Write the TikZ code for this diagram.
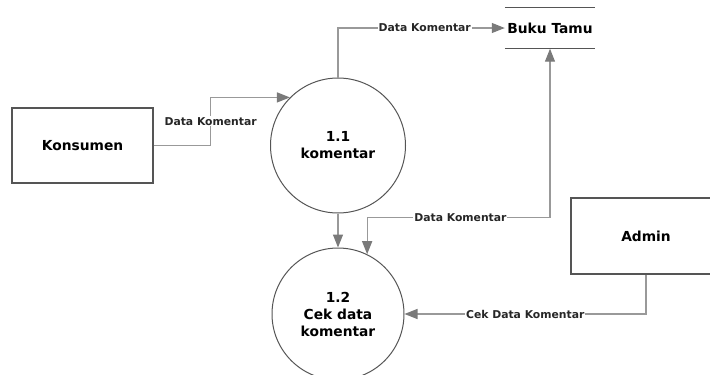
\documentclass[tikz,border=0pt]{standalone}
\usepackage{fontspec}
\setmainfont{DejaVu Sans}
\usetikzlibrary{arrows.meta}
\definecolor{edge}{HTML}{555555}
\definecolor{flowgray}{HTML}{999999}
\definecolor{tipgray}{HTML}{7A7A7A}
\tikzstyle{entity}=[rectangle, draw=edge, line width=1.2pt, inner sep=0pt, font=\fontsize{13.8}{16}\selectfont\bfseries]
\tikzstyle{process}=[circle, draw=edge, line width=1pt, inner sep=0pt, minimum size=135pt, align=center, font=\fontsize{13.8}{17}\selectfont\bfseries]
\tikzstyle{store}=[inner sep=0pt, minimum width=90pt, minimum height=41pt, font=\fontsize{13.8}{16}\selectfont\bfseries]
\tikzstyle{flow}=[draw=flowgray, line width=1.2pt, -{Triangle[length=13pt, width=10pt, fill=tipgray, color=tipgray]}]
\tikzstyle{flowboth}=[flow, {Triangle[length=13pt, width=10pt, fill=tipgray, color=tipgray]}-{Triangle[length=13pt, width=10pt, fill=tipgray, color=tipgray]}]
\tikzstyle{lbl}=[fill=white, inner sep=1pt, text=black!85, font=\fontsize{10.8}{12}\selectfont\bfseries]

\begin{document}
\begin{tikzpicture}[x=1pt, y=-1pt]
                    \useasboundingbox (0,0) rectangle (710,375);
                    \node[entity, minimum width=141pt, minimum height=75pt] (kons) at (82.5, 145.5) {Konsumen};
                    \node[entity, minimum width=150pt, minimum height=76pt] (adm) at (646, 236) {Admin};
                    \node[process] (p11) at (338, 145.5) {1.1\\komentar};
                    \node[process, minimum size=132pt] (p12) at (338, 314) {1.2\\Cek data\\komentar};
                    \node[store] (bt) at (550, 28) {Buku Tamu};
                    \draw[edge, line width=1.1pt] (bt.north west)--(bt.north east) (bt.south west)--(bt.south east);
                    \draw[flow] (kons.east) -- ++(57,0) |- node[pos=0.25, lbl] {Data Komentar} (p11.135);
                    \draw[flow] (p11.north) |- node[pos=0.76, lbl] {Data Komentar} (bt.west);
                    \draw[flowboth] (bt.south) -- ++(0,169) -| node[pos=0.245, lbl] {Data Komentar} (p12.64);
                    \draw[flow] (p11.south)--(p12.north);
                    \draw[flow] (adm.south) |- node[pos=0.75, lbl] {Cek Data Komentar} (p12.east);
                \end{tikzpicture}
\end{document}
